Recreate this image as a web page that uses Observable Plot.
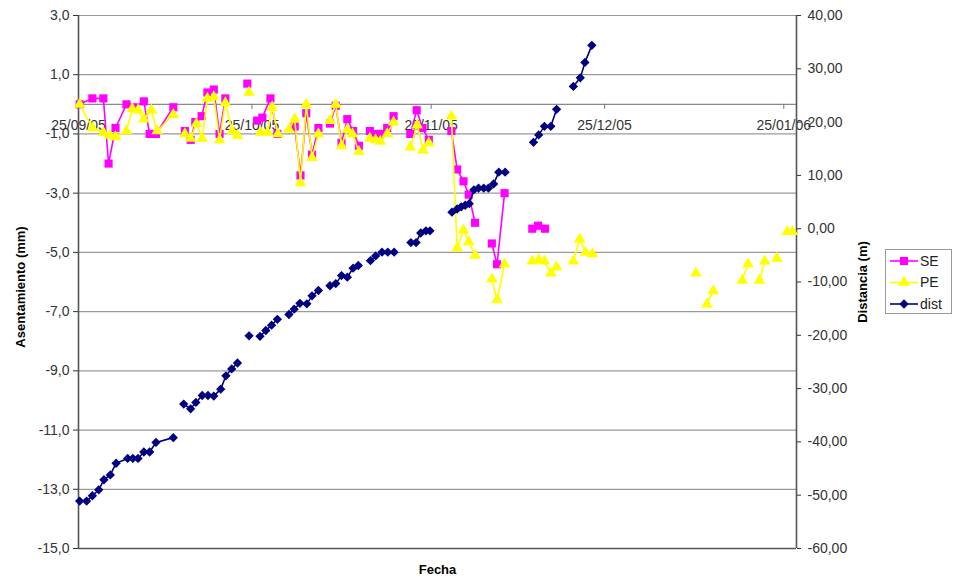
<!DOCTYPE html>
<html><head><meta charset="utf-8">
<script src="https://cdn.jsdelivr.net/npm/d3@7"></script>
<script src="https://cdn.jsdelivr.net/npm/@observablehq/plot@0.6"></script>
<style>
body{margin:0;background:#fff;}
#wrap{position:relative;width:953px;height:587px;font-family:"Liberation Sans",Arial,sans-serif;}
#legend{position:absolute;left:885px;top:249px;}
</style></head><body><div id="wrap"></div>
<script>
// ---- data (day offsets from 25/09/05, values) ----
const fechaInicio = "2005-09-25";
const fechaTicks = ["2005-09-25","2005-10-25","2005-11-25","2005-12-25","2006-01-25"];
const fechaLabels = ["25/09/05","25/10/05","25/11/05","25/12/05","25/01/06"];
const asentTicks = [-15,-13,-11,-9,-7,-5,-3,-1,1,3];
const distTicks = [-60,-50,-40,-30,-20,-10,0,10,20,30,40];
const asentDomain = [-15, 3];
const distDomain = [-60, 40];
const diasDomain = [0, 124.2];
const seriesNames = ["SE","PE","dist"];
const seriesColors = ["#FF00FF","#FFFF00","#000080"];

// SE (mm)
const SE = [[0.2,0.0],[2.4,0.2],[4.3,0.2],[5.2,-2.0],[6.4,-0.8],[8.3,0.0],[9.5,-0.1],[11.3,0.1],[12.3,-1.0],[13.4,-1.0],[16.4,-0.1],[17,null],
[18.4,-0.9],[19.4,-1.2],[20.2,-0.6],[21.3,-0.4],[22.3,0.4],[23.4,0.5],[24.4,-1.0],[25.4,0.2],[28,null],
[29.2,0.7],[30,null],
[30.9,-0.55],[31.8,-0.45],[33.2,0.2],[34.4,-1.0],[35,null],
[37.4,-0.75],[38.4,-2.4],[39.4,-0.3],[40.4,-1.7],[41.5,-0.8],[42,null],
[43.5,-0.65],[44.5,-0.05],[45.5,-1.3],[46.5,-0.5],[47.5,-0.9],[48.5,-1.4],[49,null],
[50.4,-0.9],[51.4,-1.0],[52.2,-1.0],[53.4,-0.8],[54.5,-0.4],[56,null],
[57.4,-1.0],[58.5,-0.2],[59.5,-0.8],[60.6,-1.2],[63,null],
[64.5,-0.9],[65.5,-2.2],[66.6,-2.6],[67.5,-3.05],[68.6,-4.0],[70,null],
[71.5,-4.7],[72.4,-5.4],[73.7,-3.0],[77,null],
[78.5,-4.2],[79.5,-4.1],[80.7,-4.2]];

// PE (mm)
const PE = [[0.2,0.0],[2.4,-0.8],[4.3,-0.95],[5.4,-1.05],[6.4,-1.1],[8.3,-0.9],[9.3,-0.15],[10.3,-0.2],[11.3,-0.5],[12.6,-0.2],[13.6,-0.9],[16.4,-0.35],[17,null],
[18.4,-1.0],[19.4,-1.15],[20.4,-0.65],[21.4,-1.15],[22.3,0.2],[23.4,0.25],[24.4,-1.2],[25.4,0.05],[26.6,-0.9],[27.5,-1.05],[28,null],
[29.5,0.4],[30,null],
[31.5,-0.95],[32.7,-0.95],[33.5,-0.1],[34.5,-1.0],[35,null],
[36.4,-0.85],[37.4,-0.5],[38.4,-2.65],[39.4,0.0],[40.4,-1.8],[41.5,-1.0],[42,null],
[43.5,-0.55],[44.5,0.0],[45.5,-1.4],[46.5,-0.85],[47.4,-1.0],[48.5,-1.6],[49,null],
[50.4,-1.15],[51.4,-1.2],[52.2,-1.25],[53.4,-1.0],[54.5,-0.6],[56,null],
[57.4,-1.45],[58.6,-0.7],[59.6,-1.55],[60.6,-1.3],[63,null],
[64.5,-0.4],[65.5,-4.85],[66.6,-4.25],[67.5,-4.65],[68.6,-5.1],[70,null],
[71.5,-5.9],[72.4,-6.6],[73.7,-5.4],[77,null],
[78.5,-5.3],[79.6,-5.25],[80.6,-5.3],[81.7,-5.7],[82.7,-5.5],[84,null],
[85.6,-5.3],[86.7,-4.55],[87.7,-5.0],[88.9,-5.05],[100,null],
[106.8,-5.7],[107.5,null],
[108.7,-6.75],[109.8,-6.3],[112,null],
[114.8,-5.95],[115.8,-5.4],[117,null],
[117.8,-5.95],[118.7,-5.3],[119.5,null],
[120.8,-5.2],[121.5,null],
[122.6,-4.3],[123.5,-4.3]];

// dist (m)
const dist = [[0.2,-51.1],[1.4,-51.1],[2.4,-50.1],[3.5,-49.0],[4.4,-47.1],[5.5,-46.2],[6.5,-44.0],[8.5,-43.1],[9.4,-43.1],[10.3,-43.1],[11.3,-41.9],[12.3,-41.9],[13.4,-40.1],[16.4,-39.2],[17,null],
[18.2,-32.9],[19.4,-33.8],[20.3,-32.6],[21.4,-31.3],[22.4,-31.3],[23.4,-31.4],[24.6,-30.1],[25.5,-27.6],[26.5,-26.3],[27.5,-25.2],[28,null],
[29.5,-20.1],[30,null],
[31.4,-20.2],[32.4,-19.1],[33.4,-18.1],[34.4,-17.0],[35,null],
[36.4,-16.1],[37.3,-15.1],[38.3,-14.0],[39.5,-14.1],[40.4,-12.6],[41.5,-11.6],[42,null],
[43.5,-10.7],[44.5,-10.3],[45.5,-8.8],[46.5,-9.1],[47.5,-7.4],[48.4,-6.9],[49,null],
[50.5,-6.0],[51.4,-5.1],[52.5,-4.4],[53.5,-4.4],[54.6,-4.4],[56,null],
[57.5,-2.6],[58.4,-2.6],[59.2,-0.8],[60.1,-0.4],[60.8,-0.4],[63,null],
[64.6,3.1],[65.5,3.7],[66.2,4.1],[66.9,4.4],[67.6,4.7],[68.4,7.3],[69.2,7.6],[70.1,7.6],[70.9,7.6],[71.8,8.4],[72.7,10.6],[73.8,10.6],[77,null],
[78.7,16.2],[79.6,17.6],[80.6,19.2],[81.7,19.2],[82.7,22.4],[84,null],
[85.6,26.7],[86.8,28.3],[87.6,31.2],[88.8,34.4]];

// ---- build ----
const base = new Date(fechaInicio + "T00:00:00Z");
const toDate = d => new Date(+base + d * 864e5);
const d2a = d3.scaleLinear(distDomain, asentDomain); // right axis -> left axis units
const fmt1 = v => v.toFixed(1).replace(".", ",");
const fmt2 = v => (Math.round(v * 100) / 100).toFixed(2).replace(".", ",");

const rows = (arr, conv = v => v) => arr.map(([d, v]) => ({x: toDate(d), y: v == null ? null : conv(v)}));
const seRows = rows(SE), peRows = rows(PE), distRows = rows(dist, d2a);
const xTickDates = fechaTicks.map(s => new Date(s + "T00:00:00Z"));
const xDom = diasDomain.map(toDate);

const font = "'Liberation Sans', Arial, sans-serif";
const chart = Plot.plot({
  width: 953, height: 587,
  marginLeft: 78, marginRight: 157, marginTop: 15, marginBottom: 39,
  style: {fontFamily: font, background: "#fff", color: "#333", overflow: "visible"},
  x: {type: "utc", domain: xDom, axis: null},
  y: {domain: asentDomain},
  marks: [
    Plot.ruleY(asentTicks, {stroke: "#9a9a9a", strokeWidth: 1.2}),
    Plot.ruleY([0], {stroke: "#8a8a8a", strokeWidth: 1.2}),
    Plot.ruleX(xTickDates, {y1: 0, y2: -0.17, stroke: "#777"}),
    Plot.text(xTickDates, {x: d => d, y: 0, dy: 21, text: (d, i) => fechaLabels[i], fontSize: 14, fill: "#333"}),
    Plot.ruleY([asentDomain[0]], {stroke: "#555", strokeWidth: 1.6}),
    Plot.ruleX([xDom[0]], {stroke: "#555", strokeWidth: 1.6}),
    Plot.ruleX([xDom[1]], {stroke: "#555", strokeWidth: 1.6}),
    Plot.axisY({anchor: "left", ticks: asentTicks, tickFormat: fmt1, tickSize: 5, tickPadding: 4, fontSize: 14, label: null}),
    Plot.axisY({anchor: "right", ticks: distTicks.map(d2a), tickFormat: v => fmt2(d2a.invert(v)), tickSize: 4, tickPadding: 7, fontSize: 14, label: null}),
    Plot.line(seRows, {x: "x", y: "y", stroke: seriesColors[0], strokeWidth: 1.6}),
    Plot.dot(seRows, {x: "x", y: "y", symbol: "square", r: 4.6, fill: seriesColors[0], stroke: "none"}),
    Plot.line(peRows, {x: "x", y: "y", stroke: seriesColors[1], strokeWidth: 1.6}),
    Plot.dot(peRows, {x: "x", y: "y", symbol: "triangle", r: 4.3, fill: seriesColors[1], stroke: "none"}),
    Plot.line(distRows, {x: "x", y: "y", stroke: seriesColors[2], strokeWidth: 1.6}),
    Plot.dot(distRows, {x: "x", y: "y", symbol: "diamond2", r: 4.2, fill: seriesColors[2], stroke: "none"}),
    Plot.text(["Asentamiento (mm)"], {frameAnchor: "left", textAnchor: "middle", rotate: -90, dx: -58, dy: 5, fontSize: 13, fontWeight: "bold", fill: "#000"}),
    Plot.text(["Distancia (m)"], {frameAnchor: "right", textAnchor: "middle", rotate: -90, dx: 66, fontSize: 13, fontWeight: "bold", fill: "#000"}),
    Plot.text(["Fecha"], {frameAnchor: "bottom", dy: 25, fontSize: 13, fontWeight: "bold", fill: "#000"})
  ]
});
const wrap = document.getElementById("wrap");
wrap.appendChild(chart);

// legend
const symbols = [d3.symbolSquare, d3.symbolTriangle, d3.symbolDiamond2];
const sizes = [66, 58, 55];
const lg = d3.select(wrap).append("svg").attr("id", "legend").attr("width", 68).attr("height", 66)
  .style("font-family", font);
lg.append("rect").attr("x", 0.5).attr("y", 0.5).attr("width", 66).attr("height", 64)
  .attr("fill", "#fff").attr("stroke", "#999");
seriesNames.forEach((name, i) => {
  const y = 12 + i * 21.5;
  const g = lg.append("g");
  g.append("line").attr("x1", 5).attr("x2", 33).attr("y1", y).attr("y2", y)
    .attr("stroke", seriesColors[i]).attr("stroke-width", 1.6);
  g.append("path").attr("d", d3.symbol(symbols[i], sizes[i])()).attr("transform", `translate(19,${y})`)
    .attr("fill", seriesColors[i]);
  g.append("text").attr("x", 35).attr("y", y).attr("dy", "0.35em").attr("font-size", 14)
    .attr("fill", "#222").text(name);
});
</script>
</body></html>
